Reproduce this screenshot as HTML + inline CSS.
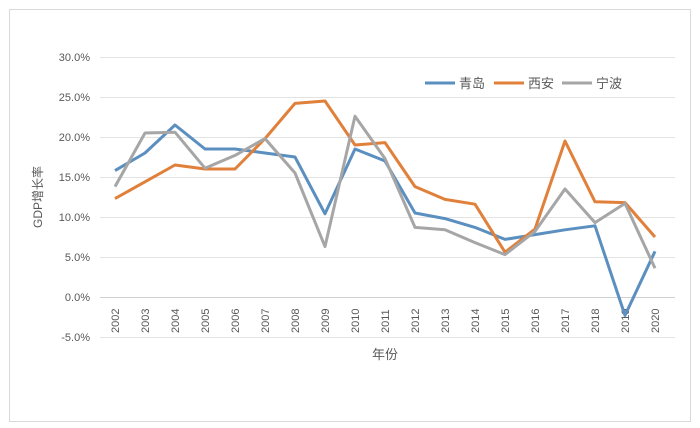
<!DOCTYPE html>
<html><head><meta charset="utf-8"><style>
body{margin:0;background:#fff}
svg{display:block}
text{font-family:"Liberation Sans","Noto Sans CJK SC",sans-serif;fill:#595959}
</style></head><body>
<svg width="700" height="428" viewBox="0 0 700 428">
<rect x="9.5" y="9.5" width="681" height="412" fill="#fff" stroke="#d9d9d9"/>
<g stroke="#e3e3e3" stroke-width="1">
<line x1="100" x2="675" y1="57.5" y2="57.5"/>
<line x1="100" x2="675" y1="97.5" y2="97.5"/>
<line x1="100" x2="675" y1="137.5" y2="137.5"/>
<line x1="100" x2="675" y1="177.5" y2="177.5"/>
<line x1="100" x2="675" y1="217.5" y2="217.5"/>
<line x1="100" x2="675" y1="257.5" y2="257.5"/>
<line x1="100" x2="675" y1="337.5" y2="337.5"/>
</g>
<line x1="100" x2="675" y1="297.5" y2="297.5" stroke="#d0d0d0"/>
<g font-size="11" text-anchor="end">
<text x="90" y="61">30.0%</text><text x="90" y="101">25.0%</text><text x="90" y="141">20.0%</text>
<text x="90" y="181">15.0%</text><text x="90" y="221">10.0%</text><text x="90" y="261">5.0%</text>
<text x="90" y="301">0.0%</text><text x="90" y="341">-5.0%</text>
</g>
<g font-size="11" id="xl"></g>
<text x="42" y="197" font-size="12" text-anchor="middle" transform="rotate(-90 42 197)">GDP增长率</text>
<text x="385" y="359" font-size="13" text-anchor="middle">年份</text>
<g fill="none" stroke-width="3" stroke-linejoin="round">
<polyline id="b" stroke="#5b8fbf"/>
<polyline id="o" stroke="#e0803a"/>
<polyline id="g" stroke="#a6a6a6"/>
</g>
<g font-size="13">
<line x1="425" x2="455" y1="83" y2="83" stroke="#5b8fbf" stroke-width="3"/><text x="459" y="88" fill="#404040">青岛</text>
<line x1="494" x2="524" y1="83" y2="83" stroke="#e0803a" stroke-width="3"/><text x="528" y="88" fill="#404040">西安</text>
<line x1="562" x2="592" y1="83" y2="83" stroke="#a6a6a6" stroke-width="3"/><text x="596" y="88" fill="#404040">宁波</text>
</g>
</svg>
<script>
var B=[15.8,18.0,21.5,18.5,18.5,18.0,17.5,10.4,18.5,17.0,10.5,9.8,8.7,7.2,7.8,8.4,8.9,-2.3,5.7];
var O=[12.3,14.4,16.5,16.0,16.0,19.8,24.2,24.5,19.0,19.3,13.8,12.2,11.6,5.6,8.5,19.5,11.9,11.8,7.5];
var G=[13.8,20.5,20.6,16.1,17.7,19.8,15.5,6.3,22.6,17.3,8.7,8.4,6.8,5.3,8.2,13.5,9.3,11.7,3.6];
function pts(a){return a.map(function(v,i){return (115+30*i)+","+(297-8*v)}).join(" ")}
document.getElementById("b").setAttribute("points",pts(B));
document.getElementById("o").setAttribute("points",pts(O));
document.getElementById("g").setAttribute("points",pts(G));
var xl=document.getElementById("xl"),s="";
for(var i=0;i<19;i++){var x=115+30*i+4;s+='<text x="'+x+'" y="333" transform="rotate(-90 '+x+' 333)">'+(2002+i)+'</text>';}
xl.innerHTML=s;
</script>
</body></html>
